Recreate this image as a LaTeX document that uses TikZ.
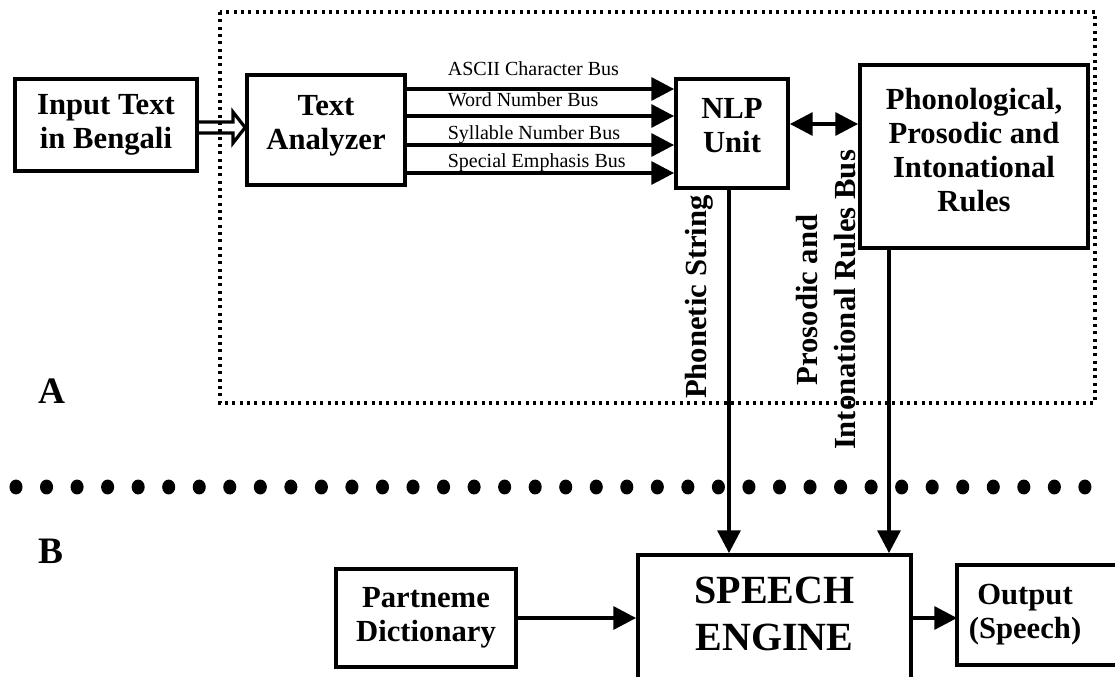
\documentclass[tikz,border=0pt]{standalone}
\usepackage{fontspec}
\setmainfont{Liberation Serif}
\usetikzlibrary{arrows.meta}

\begin{document}
\begin{tikzpicture}[x=0.75pt, y=-0.75pt, line width=2.8pt, >={Triangle[length=17pt, width=17pt]},
		bx/.style={draw, rectangle, align=center, inner sep=0pt, font=\fontsize{23}{25.5}\selectfont\bfseries},
		bus/.style={font=\fontsize{15}{17}\selectfont, inner sep=0pt, anchor=base west},
		vt/.style={rotate=90, align=center, inner sep=0pt, font=\fontsize{23}{28.5}\selectfont\bfseries},
		part/.style={font=\fontsize{28}{30}\selectfont\bfseries, anchor=base west, inner sep=0pt}]
			\clip (0,0) rectangle (1115,676);

			% part A
			\draw[line width=2.4pt, dash pattern=on 2.3pt off 3.2pt] (220,12) rectangle (1095,403);
			\node[bx, minimum width=136.5pt, minimum height=69pt] (inp) at (106,125) {Input Text\\in Bengali};
			\node[bx, minimum width=118.5pt, minimum height=82.5pt, text depth=12pt] (ana) at (326,130) {Text\\Analyzer};
			\node[bx, minimum width=84pt, minimum height=81.75pt, text depth=12.8pt] (nlp) at (732,133.5) {NLP\\Unit};
			\node[bx, minimum width=171pt, minimum height=137.25pt, text depth=9.8pt] (phon) at (974,156.5) {Phonological,\\Prosodic and\\Intonational\\Rules};

			\draw[line width=2.4pt, line join=miter] (inp.east |- 0,122) -- (233,122) -- (233,112) -- (ana.west |- 0,127.5) -- (233,143) -- (233,133) -- (inp.east |- 0,133);
			\foreach \yy/\ty/\txt in {89/75/ASCII Character Bus, 116/106/Word Number Bus, 145/139/Syllable Number Bus, 173/167/Special Emphasis Bus} {
				\draw[->] (ana.east |- 0,\yy) -- (nlp.west |- 0,\yy);
				\node[bus] (l\yy) at (446,\ty) {\txt};
			}
			\draw[<->] (nlp.east |- 0,124) -- (phon.west |- 0,124);

			\node[vt] (ps) at (699,297) {Phonetic String};
			\node[vt] (pir) at (826,300) {Prosodic and\\Intonational Rules Bus};
			\node[part] (pa) at (37,403) {A};

			% separator
			\foreach \i in {0,...,35}
				\fill (16+30.54*\i,487) ellipse [x radius=4.9pt, y radius=5.6pt];

			% part B
			\node[part] (pb) at (37,563) {B};
			\node[bx, minimum width=135pt, minimum height=73.5pt] (dict) at (426,618) {Partneme\\Dictionary};
			\node[bx, minimum width=204.75pt, minimum height=108.75pt, text depth=21pt, font=\fontsize{30}{35}\selectfont\bfseries] (eng) at (774.5,627.5) {SPEECH\\ENGINE};
			\node[bx, draw=none, minimum width=99pt, minimum height=72pt] (out) at (1025,615) {Output\\(Speech)};
			\draw (out.north west -| 1130,0) -- (out.north west) -- (out.south west) -- (out.south west -| 1130,0);

			\draw[->] (nlp.south -| 729,0) -- (eng.north -| 729,0);
			\draw[->] (phon.south -| 889,0) -- (eng.north -| 889,0);
			\draw[->] (dict.east) -- (eng.west |- dict.east);
			\draw[->] (eng.east |- 0,618) -- (out.west |- 0,618);
		\end{tikzpicture}
\end{document}
